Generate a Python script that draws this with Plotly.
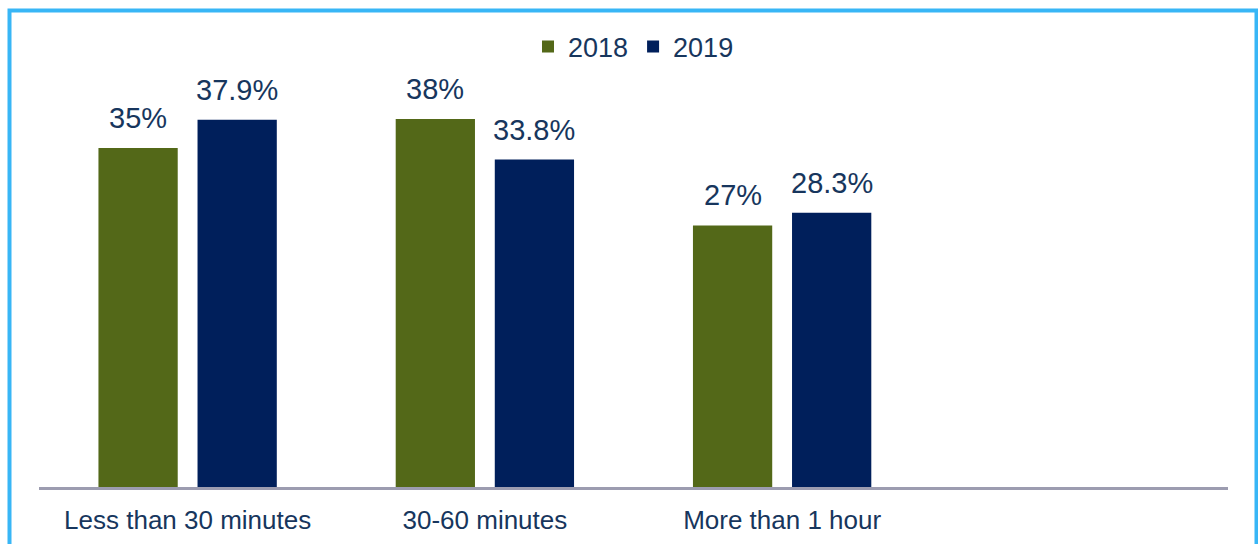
import plotly.graph_objects as go

# Commute duration shares by year
categories = ["Less than 30 minutes", "30-60 minutes", "More than 1 hour"]
share_2018 = [35, 38, 27]
share_2019 = [37.9, 33.8, 28.3]
labels_2018 = ["35%", "38%", "27%"]
labels_2019 = ["37.9%", "33.8%", "28.3%"]

OLIVE = "#536818"
NAVY = "#001F5B"
TEXT = "#17365D"
FRAME = "#38B6F6"
FONT = "Liberation Sans, Arial, sans-serif"

W, H = 1258, 544
ML, MR, MT, MB = 39, 30, 22, 57

fig = go.Figure()
fig.add_trace(go.Bar(name="2018", x=categories, y=share_2018,
                     marker=dict(color=OLIVE, line=dict(width=0))))
fig.add_trace(go.Bar(name="2019", x=categories, y=share_2019,
                     marker=dict(color=NAVY, line=dict(width=0))))

# value labels above each bar
for i, (a, b) in enumerate(zip(share_2018, share_2019)):
    for off, val, txt in ((-1 / 6, a, labels_2018[i]), (1 / 6, b, labels_2019[i])):
        fig.add_annotation(x=i + off, y=val, text=txt, showarrow=False,
                           xref="x", yref="y", yanchor="bottom", yshift=12,
                           font=dict(size=29, color=TEXT, family=FONT))

# light-blue frame around the chart
pw, ph = W - ML - MR, H - MT - MB
def px_to_paper_x(px):
    return (px - ML) / pw
def px_to_paper_y(py):
    return (H - MB - py) / ph
fig.add_shape(type="rect", xref="paper", yref="paper",
              x0=px_to_paper_x(9.5), x1=px_to_paper_x(1256.5),
              y0=px_to_paper_y(560), y1=px_to_paper_y(10.5),
              line=dict(color=FRAME, width=4), fillcolor="rgba(0,0,0,0)",
              layer="below")

fig.update_layout(
    width=W, height=H,
    margin=dict(l=ML, r=MR, t=MT, b=MB, autoexpand=False),
    paper_bgcolor="white", plot_bgcolor="white",
    barmode="group", bargap=1 / 3, bargroupgap=0.2,
    font=dict(family=FONT, color=TEXT),
    showlegend=True,
    legend=dict(orientation="h", x=0.5, xanchor="center", y=px_to_paper_y(47),
                yanchor="middle", font=dict(size=27, color=TEXT),
                itemwidth=30, traceorder="normal", bgcolor="rgba(0,0,0,0)"),
    xaxis=dict(type="category", range=[-0.5, 3.5], showgrid=False,
               showline=True, linecolor="#9C9CB0", linewidth=2.5,
               ticks="", ticklabelstandoff=8, automargin=False,
               tickfont=dict(size=26, color=TEXT), fixedrange=True),
    yaxis=dict(range=[0, 48], showgrid=False, showticklabels=False,
               zeroline=False, showline=False, ticks="", automargin=False,
               fixedrange=True),
)

fig.write_html("out.html")
